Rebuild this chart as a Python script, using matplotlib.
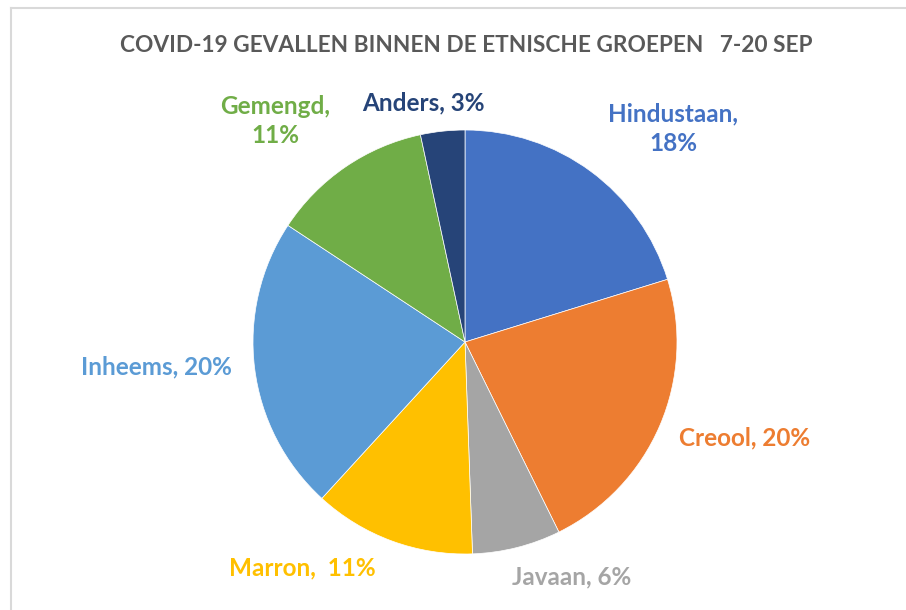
import matplotlib
matplotlib.use("Agg")
import matplotlib.pyplot as plt
from matplotlib.lines import Line2D

categories = ["Hindustaan", "Creool", "Javaan", "Marron", "Inheems", "Gemengd", "Anders"]
values = [18, 20, 6, 11, 20, 11, 3]
label_texts = ["Hindustaan,\n18%", "Creool, 20%", "Javaan, 6%", "Marron,  11%",
               "Inheems, 20%", "Gemengd,\n11%", "Anders, 3%"]
colors = ["#4472C4", "#ED7D31", "#A5A5A5", "#FFC000", "#5B9BD5", "#70AD47", "#264478"]
label_colors = ["#4472C4", "#ED7D31", "#A5A5A5", "#FFC000", "#5B9BD5", "#70AD47", "#264478"]
title = "COVID-19 GEVALLEN BINNEN DE ETNISCHE GROEPEN   7-20 SEP"

W, H = 906, 610
fig = plt.figure(figsize=(W / 100, H / 100), dpi=100)
fig.patch.set_facecolor("white")

# frame lines (chart area border)
fig.add_artist(Line2D([11 / W, 11 / W], [0, 1 - 8 / H], color="#D9D9D9", lw=1.5))
fig.add_artist(Line2D([11 / W, 1], [1 - 8 / H, 1 - 8 / H], color="#D9D9D9", lw=1.5))

cx, cy, r = 465, 342, 212
ax = fig.add_axes([(cx - r) / W, (H - cy - r) / H, 2 * r / W, 2 * r / H])
ax.pie(values, colors=colors, startangle=90, counterclock=False,
       wedgeprops=dict(edgecolor="white", linewidth=0.5))
ax.set_xlim(-1, 1)
ax.set_ylim(-1, 1)
ax.set_aspect("equal")
ax.axis("off")

font = "Lato"
fig.text(466 / W, 1 - 46 / H, title, ha="center", va="center", fontsize=16.3,
         fontweight="bold", color="#595959", family=font)

label_pos = [(673, 129), (745, 438), (572, 577), (302, 568), (156, 367), (275, 121), (423, 103)]
for txt, (x, y), c in zip(label_texts, label_pos, label_colors):
    fig.text(x / W, 1 - y / H, txt, ha="center", va="center", fontsize=17.5,
             fontweight="bold", color=c, family=font, linespacing=1.35)

fig.savefig("out.png", dpi=100)
